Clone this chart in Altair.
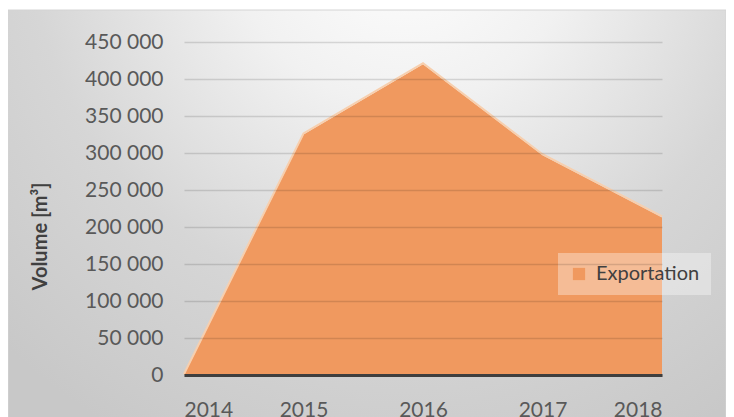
import altair as alt
import pandas as pd

years = [2014, 2015, 2016, 2017, 2018]
exportation = [0, 325000, 420000, 297000, 213000]
series_name = "Exportation"
y_ticks = [0, 50000, 100000, 150000, 200000, 250000, 300000, 350000, 400000, 450000]

df = pd.DataFrame({"year": years, "value": exportation, "series": [series_name] * len(years)})

W, H = 478, 333
FONT = "Lato"
ORANGE = "#F0995F"

bg = alt.Chart(pd.DataFrame({"a": [0]})).mark_rect(
    fill={
        "gradient": "radial",
        "x1": 0.55, "y1": 0.1, "r1": 0,
        "x2": 0.55, "y2": 0.1, "r2": 0.8,
        "stops": [
            {"offset": 0, "color": "#ffffff"},
            {"offset": 0.3, "color": "#f1f1f1"},
            {"offset": 0.65, "color": "#d6d6d6"},
            {"offset": 1, "color": "#c8c8c8"},
        ],
    },
    stroke="#d4d4d4",
    strokeWidth=1,
).encode(
    x=alt.value(-176), x2=alt.value(542), y=alt.value(-32), y2=alt.value(385)
)

x_enc = alt.X(
    "year:Q",
    scale=alt.Scale(domain=[2014, 2018], nice=False, zero=False),
    axis=alt.Axis(
        values=years, format="d", title=None, grid=False, ticks=False,
        domain=True, domainColor="#3f3f3f", domainWidth=3,
        labelFont=FONT, labelFontSize=21, labelColor="#595959",
        labelPadding=24, labelOverlap=False, zindex=2,
    ),
)
y_enc = alt.Y(
    "value:Q",
    scale=alt.Scale(domain=[0, 450000], nice=False),
    axis=alt.Axis(
        values=y_ticks, title="Volume [m³]",
        labelExpr="replace(format(datum.value, ','), ',', ' ')",
        grid=True, gridColor="rgba(0,0,0,0.13)", gridWidth=1.5,
        ticks=False, domain=False, labelOverlap=False,
        labelFont=FONT, labelFontSize=21, labelColor="#595959", labelPadding=21,
        titleFont=FONT, titleFontSize=20, titleFontWeight="bold", titleColor="#404040",
        titleAngle=270, titleX=-144, titleY=194, titleAlign="center", titleBaseline="middle",
        zindex=1,
    ),
)

area = alt.Chart(df).mark_area(opacity=1).encode(
    x=x_enc,
    y=y_enc,
    color=alt.Color(
        "series:N",
        scale=alt.Scale(domain=[series_name], range=[ORANGE]),
        legend=alt.Legend(
            title=None, orient="none", legendX=374, legendY=211,
            fillColor="rgba(255,255,255,0.35)", padding=11,
            symbolType="square", symbolSize=150, symbolStrokeWidth=0,
            labelFont=FONT, labelFontSize=20, labelColor="#404040", labelOffset=7,
        ),
    ),
)

edge = alt.Chart(df).mark_line(color="#f7cfae", strokeWidth=2, yOffset=-1).encode(
    x=x_enc, y=y_enc
)

chart = alt.layer(bg, area, edge).properties(
    width=W, height=H,
    padding={"left": 176, "top": 34, "right": 64, "bottom": 42},
    autosize=alt.AutoSizeParams(type="none"),
    background="white",
).configure_view(stroke=None)

chart.save("out.html", embed_options={"renderer": "svg", "actions": False})
